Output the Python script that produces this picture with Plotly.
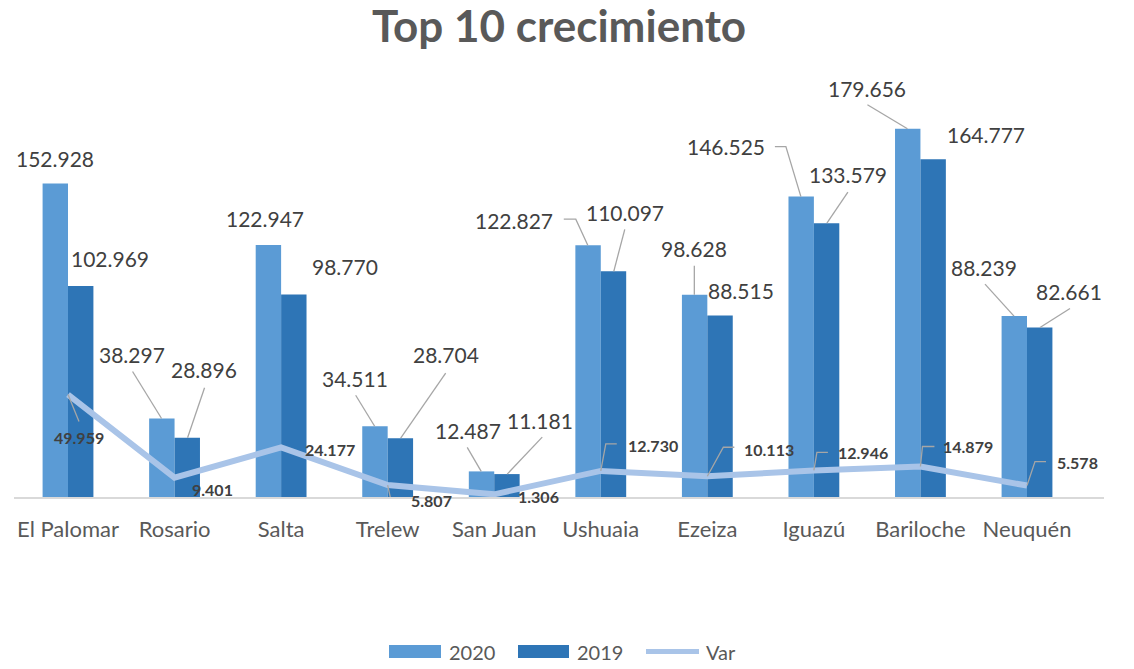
import plotly.graph_objects as go

# ---------------- data ----------------
categories = ["El Palomar", "Rosario", "Salta", "Trelew", "San Juan",
              "Ushuaia", "Ezeiza", "Iguazú", "Bariloche", "Neuquén"]
values_2020 = [152928, 38297, 122947, 34511, 12487, 122827, 98628, 146525, 179656, 88239]
values_2019 = [102969, 28896, 98770, 28704, 11181, 110097, 88515, 133579, 164777, 82661]
values_var = [49959, 9401, 24177, 5807, 1306, 12730, 10113, 12946, 14879, 5578]

# ---------------- style ----------------
C2020 = "#5b9bd5"
C2019 = "#2e75b6"
CVAR = "#a9c4e8"
LEADER = "#a6a6a6"
FONT = "Lato"
TXT = "#404040"
GREY = "#595959"

BAR_SHIFT = 13  # pixel offset of each bar centre from category centre

# label text centre offsets (px, screen: +x right, +y down) relative to the mark anchor
off_2020 = [(0, -25), (-30, -64), (-3, -26), (-20, -48), (-13, -41),
            (-74, -25), (0, -46), (-75, -50), (-40, -40), (-30, -49)]
off_2019 = [(29, -27), (16, -68), (51, -28), (45, -84), (33, -54),
            (11, -59), (21, -25), (21, -49), (53, -25), (29, -36)]
off_var = [(11, 43), (38, 12), (49, 2), (44, 15), (44, 2),
           (52, -25), (62, -27), (49, -18), (48, -20), (50, -23)]

# leader lines (px points relative to anchor, screen coords)
lead_2020 = [None, [(0, 0), (-29, -47)], None, [(0, 0), (-19, -31)], [(0, 0), (-14, -24)],
             [(0, 0), (-12, -26), (-24, -26)], [(0, 0), (0, -29)],
             [(0, 0), (-15, -50), (-26, -50)], [(0, 0), (-40, -24)], [(0, 0), (-29, -32)]]
lead_2019 = [None, [(0, 0), (17, -50)], None, [(0, 0), (45, -65)], [(0, 0), (35, -37)],
             [(0, 0), (11, -42)], None, [(0, 0), (21, -31)], None, [(0, 0), (30, -19)]]
lead_var = [[(0, 0), (11, 27)], None, None, [(0, 0), (3, 14), (15, 14)], None,
            [(0, 0), (5, -27), (16, -27)], [(0, 0), (16, -29), (27, -29)],
            [(0, 0), (3, -18), (14, -18)], [(0, 0), (2, -20), (14, -20)],
            [(0, 0), (8, -24), (19, -24)]]


def fmt(v):
    return f"{v:,}".replace(",", ".")


fig = go.Figure()
fig.add_trace(go.Bar(name="2020", x=categories, y=values_2020, marker_color=C2020,
                     marker_line_width=0, showlegend=False))
fig.add_trace(go.Bar(name="2019", x=categories, y=values_2019, marker_color=C2019,
                     marker_line_width=0, showlegend=False))
fig.add_trace(go.Scatter(name="Var", x=categories, y=values_var, mode="lines",
                         line=dict(color=CVAR, width=6), showlegend=False))

annotations = []
shapes = []


def add_labels(vals, offs, leads, shift, size, bold):
    for i, v in enumerate(vals):
        dx, dy = offs[i]
        annotations.append(dict(
            x=i, y=v, xref="x", yref="y", text=(f"<b>{fmt(v)}</b>" if bold else fmt(v)),
            showarrow=False, xanchor="center", yanchor="middle",
            xshift=shift + dx, yshift=-dy,
            font=dict(family=FONT, size=size, color=TXT)))
        if leads[i]:
            pts = leads[i]
            path = "M " + " L ".join(f"{shift + px},{-py}" for px, py in pts)
            shapes.append(dict(type="path", xref="x", yref="y",
                               xsizemode="pixel", ysizemode="pixel",
                               xanchor=i, yanchor=v, path=path,
                               line=dict(color=LEADER, width=1.3)))


add_labels(values_2020, off_2020, lead_2020, -BAR_SHIFT, 21, False)
add_labels(values_2019, off_2019, lead_2019, BAR_SHIFT, 21, False)
add_labels(values_var, off_var, lead_var, 0, 16, True)

# ---- manual legend (paper coordinates) ----
L, R, T, B = 14, 30, 87, 172
W, H = 1134, 669
PW, PH = W - L - R, H - T - B


def px(x):
    return (x - L) / PW


def py(y):
    return (H - B - y) / PH


shapes.append(dict(type="rect", xref="paper", yref="paper", x0=px(389), x1=px(441),
                   y0=py(658), y1=py(645), fillcolor=C2020, line_width=0))
shapes.append(dict(type="rect", xref="paper", yref="paper", x0=px(518), x1=px(569),
                   y0=py(658), y1=py(645), fillcolor=C2019, line_width=0))
shapes.append(dict(type="line", xref="paper", yref="paper", x0=px(646), x1=px(699),
                   y0=py(651.5), y1=py(651.5), line=dict(color=CVAR, width=5)))
for txt, xl in [("2020", 447), ("2019", 575), ("Var", 704)]:
    annotations.append(dict(x=px(xl), y=py(651.5), xref="paper", yref="paper", text=txt,
                            showarrow=False, xanchor="left", yanchor="middle",
                            font=dict(family=FONT, size=20, color=GREY)))

fig.update_layout(
    width=W, height=H,
    margin=dict(l=L, r=R, t=T, b=B, pad=0),
    paper_bgcolor="white", plot_bgcolor="white",
    barmode="group", bargap=0.523, bargroupgap=0,
    title=dict(text="<b>Top 10 crecimiento</b>", x=0.493, xanchor="center",
               y=1 - 27 / H, yanchor="middle", yref="container",
               font=dict(family=FONT, size=44, color=GREY)),
    xaxis=dict(showline=True, linecolor="#d9d9d9", linewidth=1.5, ticks="",
               showgrid=False, zeroline=False, ticklabelstandoff=12,
               tickfont=dict(family=FONT, size=22, color=GREY)),
    yaxis=dict(range=[0, 200000], visible=False, showgrid=False, zeroline=False),
    annotations=annotations, shapes=shapes,
)

fig.write_html("out.html", config={"displayModeBar": False},
               post_script="document.body.style.margin='0';document.body.style.overflow='hidden';")
